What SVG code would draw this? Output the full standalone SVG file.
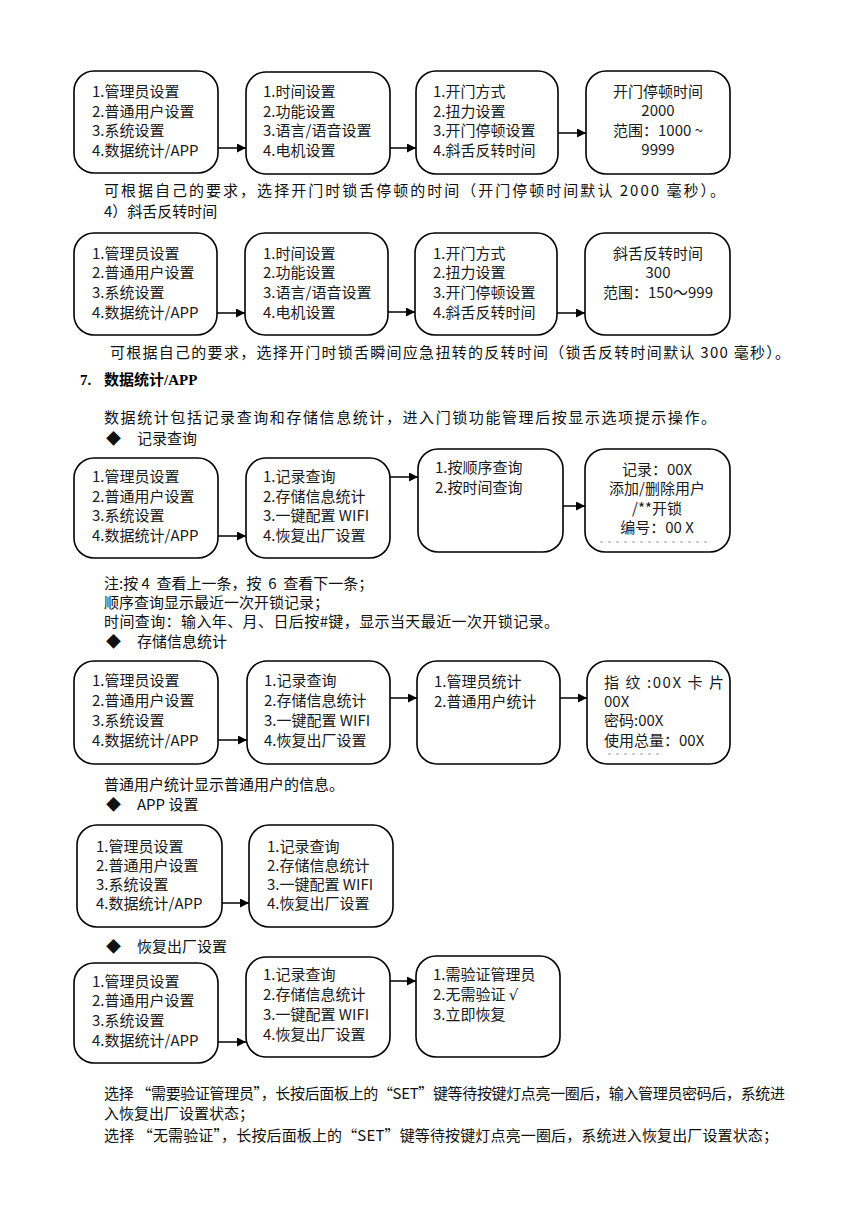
<svg xmlns="http://www.w3.org/2000/svg" width="860" height="1216" viewBox="0 0 860 1216">
<defs>
<marker id="ah" viewBox="0 0 10 10" refX="10" refY="5" markerWidth="10" markerHeight="9" markerUnits="userSpaceOnUse" orient="auto">
<path d="M0,0 L10,5 L0,10 z" fill="#000"/>
</marker>
<style>
.box{fill:#fff;stroke:#000;stroke-width:1.6}
.t{font-family:"Noto Sans CJK SC","Noto Sans",sans-serif;font-size:15px;fill:#1a1a1a}
.p{font-family:"Noto Sans CJK SC","Noto Sans",sans-serif;font-size:15px;fill:#111;white-space:pre}
.h{font-family:"Liberation Serif","Noto Sans CJK SC",serif;font-size:15px;font-weight:bold;fill:#000}
.c{text-anchor:middle}
.ln{stroke:#000;stroke-width:1.5;fill:none;marker-end:url(#ah)}
.frag{stroke:#bbb;stroke-width:1.5;stroke-dasharray:3 5;fill:none}
</style>
</defs>
<rect width="860" height="1216" fill="#fff"/>

<!-- Row 1 -->
<g id="r1n1"><rect class="box" x="74" y="71" width="144" height="102" rx="20"/>
<text class="t" x="92" y="97">1.管理员设置</text><text class="t" x="92" y="117">2.普通用户设置</text><text class="t" x="92" y="136">3.系统设置</text><text class="t" x="92" y="156">4.数据统计/APP</text></g>
<g id="r1n2"><rect class="box" x="246" y="72" width="144" height="102" rx="20"/>
<text class="t" x="263" y="97">1.时间设置</text><text class="t" x="263" y="117">2.功能设置</text><text class="t" x="263" y="136">3.语言/语音设置</text><text class="t" x="263" y="156">4.电机设置</text></g>
<g id="r1n3"><rect class="box" x="416" y="71" width="142" height="103" rx="20"/>
<text class="t" x="433" y="97">1.开门方式</text><text class="t" x="433" y="117">2.扭力设置</text><text class="t" x="433" y="136">3.开门停顿设置</text><text class="t" x="433" y="156">4.斜舌反转时间</text></g>
<g id="r1n4"><rect class="box" x="586" y="71" width="144" height="103" rx="20"/>
<text class="t c" x="658" y="97">开门停顿时间</text><text class="t c" x="658" y="116">2000</text><text class="t c" x="658" y="136">范围：1000 ~</text><text class="t c" x="658" y="155">9999</text></g>

<text class="p" x="104" y="196" textLength="621" lengthAdjust="spacing">可根据自己的要求，选择开门时锁舌停顿的时间（开门停顿时间默认 2000 毫秒）。</text>
<text class="p" x="104" y="217">4）斜舌反转时间</text>

<!-- Row 2 -->
<g id="r2n1"><rect class="box" x="74" y="233" width="143" height="102" rx="20"/>
<text class="t" x="92" y="259">1.管理员设置</text><text class="t" x="92" y="278">2.普通用户设置</text><text class="t" x="92" y="298">3.系统设置</text><text class="t" x="92" y="318">4.数据统计/APP</text></g>
<g id="r2n2"><rect class="box" x="245" y="233" width="143" height="102" rx="20"/>
<text class="t" x="263" y="259">1.时间设置</text><text class="t" x="263" y="278">2.功能设置</text><text class="t" x="263" y="298">3.语言/语音设置</text><text class="t" x="263" y="318">4.电机设置</text></g>
<g id="r2n3"><rect class="box" x="415" y="233" width="142" height="102" rx="20"/>
<text class="t" x="433" y="259">1.开门方式</text><text class="t" x="433" y="278">2.扭力设置</text><text class="t" x="433" y="298">3.开门停顿设置</text><text class="t" x="433" y="318">4.斜舌反转时间</text></g>
<g id="r2n4"><rect class="box" x="585" y="233" width="145" height="102" rx="20"/>
<text class="t c" x="658" y="259">斜舌反转时间</text><text class="t c" x="658" y="278">300</text><text class="t c" x="658" y="298">范围：150～999</text></g>

<text class="p" x="110" y="358" textLength="680" lengthAdjust="spacing">可根据自己的要求，选择开门时锁舌瞬间应急扭转的反转时间（锁舌反转时间默认 300 毫秒）。</text>
<text class="h" x="80" y="385">7.</text>
<text class="h" x="104" y="385">数据统计/APP</text>
<text class="p" x="104" y="423" textLength="612" lengthAdjust="spacing">数据统计包括记录查询和存储信息统计，进入门锁功能管理后按显示选项提示操作。</text>
<text class="p" x="106" y="444">◆</text><text class="p" x="137" y="444">记录查询</text>

<!-- Row 3 -->
<g id="r3n1"><rect class="box" x="74" y="458" width="144" height="100" rx="20"/>
<text class="t" x="92" y="482">1.管理员设置</text><text class="t" x="92" y="502">2.普通用户设置</text><text class="t" x="92" y="521">3.系统设置</text><text class="t" x="92" y="541">4.数据统计/APP</text></g>
<g id="r3n2"><rect class="box" x="246" y="458" width="144" height="100" rx="20"/>
<text class="t" x="263" y="482">1.记录查询</text><text class="t" x="263" y="502">2.存储信息统计</text><text class="t" x="263" y="521">3.一键配置 WIFI</text><text class="t" x="263" y="541">4.恢复出厂设置</text></g>
<g id="r3n3"><rect class="box" x="418" y="449" width="145" height="103" rx="20"/>
<text class="t" x="435" y="473">1.按顺序查询</text><text class="t" x="435" y="493">2.按时间查询</text></g>
<g id="r3n4"><rect class="box" x="585" y="449" width="145" height="103" rx="20"/>
<text class="t c" x="657" y="475">记录：00X</text><text class="t c" x="657" y="494">添加/删除用户</text><text class="t c" x="657" y="514">/**开锁</text><text class="t c" x="657" y="533">编号：00 X</text>
<line class="frag" x1="600" y1="542" x2="712" y2="542"/></g>

<text class="p" x="104" y="589">注:按 4  查看上一条，按  6  查看下一条；</text>
<text class="p" x="104" y="608">顺序查询显示最近一次开锁记录；</text>
<text class="p" x="104" y="627" textLength="455" lengthAdjust="spacing">时间查询：输入年、月、日后按#键，显示当天最近一次开锁记录。</text>
<text class="p" x="106" y="647">◆</text><text class="p" x="137" y="647">存储信息统计</text>

<!-- Row 4 -->
<g id="r4n1"><rect class="box" x="74" y="661" width="144" height="103" rx="20"/>
<text class="t" x="92" y="686">1.管理员设置</text><text class="t" x="92" y="706">2.普通用户设置</text><text class="t" x="92" y="726">3.系统设置</text><text class="t" x="92" y="746">4.数据统计/APP</text></g>
<g id="r4n2"><rect class="box" x="247" y="661" width="143" height="103" rx="20"/>
<text class="t" x="264" y="686">1.记录查询</text><text class="t" x="264" y="706">2.存储信息统计</text><text class="t" x="264" y="726">3.一键配置 WIFI</text><text class="t" x="264" y="746">4.恢复出厂设置</text></g>
<g id="r4n3"><rect class="box" x="417" y="661" width="143" height="103" rx="20"/>
<text class="t" x="434" y="687">1.管理员统计</text><text class="t" x="434" y="707">2.普通用户统计</text></g>
<g id="r4n4"><rect class="box" x="587" y="661" width="143" height="103" rx="20"/>
<text class="t" x="604" y="688" style="white-space:pre" textLength="120" lengthAdjust="spacing">指 纹 :00X 卡 片</text><text class="t" x="604" y="707">00X</text><text class="t" x="604" y="726">密码:00X</text><text class="t" x="604" y="746">使用总量：00X</text>
<line class="frag" x1="608" y1="754" x2="660" y2="754"/></g>

<text class="p" x="104" y="790">普通用户统计显示普通用户的信息。</text>
<text class="p" x="106" y="810">◆</text><text class="p" x="137" y="810">APP 设置</text>

<!-- Row 5 -->
<g id="r5n1"><rect class="box" x="77" y="825" width="145" height="102" rx="20"/>
<text class="t" x="96" y="852">1.管理员设置</text><text class="t" x="96" y="871">2.普通用户设置</text><text class="t" x="96" y="890">3.系统设置</text><text class="t" x="96" y="909">4.数据统计/APP</text></g>
<g id="r5n2"><rect class="box" x="249" y="825" width="144" height="102" rx="20"/>
<text class="t" x="267" y="852">1.记录查询</text><text class="t" x="267" y="871">2.存储信息统计</text><text class="t" x="267" y="890">3.一键配置 WIFI</text><text class="t" x="267" y="909">4.恢复出厂设置</text></g>

<text class="p" x="106" y="952">◆</text><text class="p" x="137" y="952">恢复出厂设置</text>

<!-- Row 6 -->
<g id="r6n1"><rect class="box" x="74" y="963" width="144" height="100" rx="20"/>
<text class="t" x="92" y="987">1.管理员设置</text><text class="t" x="92" y="1006">2.普通用户设置</text><text class="t" x="92" y="1026">3.系统设置</text><text class="t" x="92" y="1046">4.数据统计/APP</text></g>
<g id="r6n2"><rect class="box" x="246" y="957" width="144" height="100" rx="20"/>
<text class="t" x="263" y="980">1.记录查询</text><text class="t" x="263" y="1000">2.存储信息统计</text><text class="t" x="263" y="1020">3.一键配置 WIFI</text><text class="t" x="263" y="1040">4.恢复出厂设置</text></g>
<g id="r6n3"><rect class="box" x="416" y="956" width="144" height="101" rx="20"/>
<text class="t" x="433" y="980">1.需验证管理员</text><text class="t" x="433" y="1000">2.无需验证 <tspan font-family="DejaVu Sans">√</tspan></text><text class="t" x="433" y="1020">3.立即恢复</text></g>

<text class="p" x="104" y="1099" textLength="681" lengthAdjust="spacing">选择 “需要验证管理员”，长按后面板上的“SET”键等待按键灯点亮一圈后，输入管理员密码后，系统进</text>
<text class="p" x="104" y="1119">入恢复出厂设置状态；</text>
<text class="p" x="104" y="1141" textLength="674" lengthAdjust="spacing">选择 “无需验证”，长按后面板上的“SET”键等待按键灯点亮一圈后，系统进入恢复出厂设置状态；</text>

<g id="connectors">
<line class="ln" x1="218" y1="148" x2="246" y2="148"/>
<line class="ln" x1="390" y1="148" x2="416" y2="148"/>
<line class="ln" x1="558" y1="133" x2="586" y2="133"/>
<line class="ln" x1="217" y1="313" x2="245" y2="313"/>
<line class="ln" x1="388" y1="312" x2="415" y2="312"/>
<line class="ln" x1="557" y1="313" x2="585" y2="313"/>
<line class="ln" x1="218" y1="536" x2="246" y2="536"/>
<line class="ln" x1="390" y1="477" x2="418" y2="477"/>
<line class="ln" x1="563" y1="506" x2="585" y2="506"/>
<line class="ln" x1="218" y1="740" x2="247" y2="740"/>
<line class="ln" x1="390" y1="698" x2="417" y2="698"/>
<line class="ln" x1="560" y1="698" x2="587" y2="698"/>
<line class="ln" x1="222" y1="903" x2="249" y2="903"/>
<line class="ln" x1="218" y1="1042" x2="246" y2="1042"/>
<line class="ln" x1="390" y1="981" x2="416" y2="981"/>
</g>
</svg>
